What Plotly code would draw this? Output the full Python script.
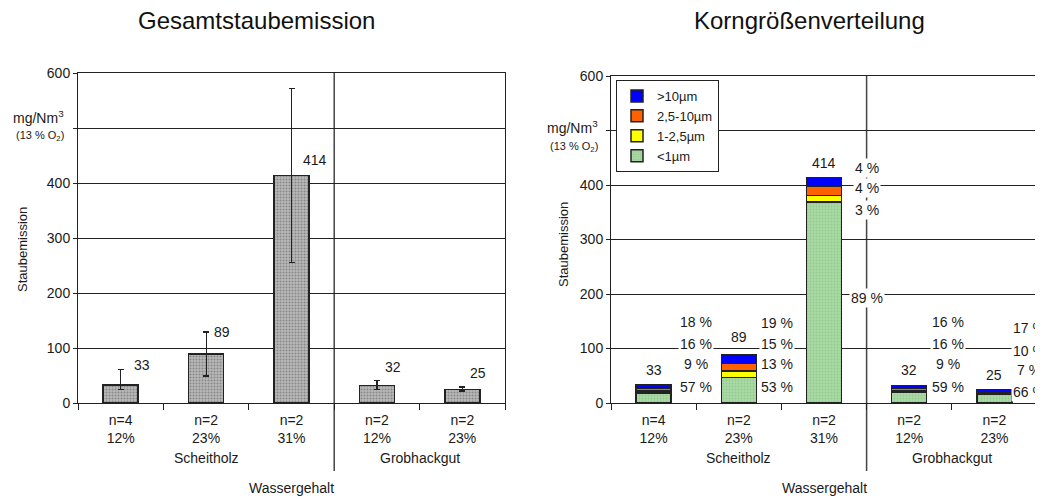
import plotly.graph_objects as go

# ---------------- data ----------------
tick_labels = ["n=4<br>12%", "n=2<br>23%", "n=2<br>31%", "n=2<br>12%", "n=2<br>23%"]
groups = ["Scheitholz", "Grobhackgut"]
totals = [33, 89, 414, 32, 25]
err_plus = [28, 40, 158, 9, 4]
err_minus = [9, 40, 158, 8, 3]
size_classes = ["<1µm", "1-2,5µm", "2,5-10µm", ">10µm"]
pct_lt1 = [57, 53, 89, 59, 66]
pct_1_25 = [9, 13, 3, 9, 7]
pct_25_10 = [16, 15, 4, 16, 10]
pct_gt10 = [18, 19, 4, 16, 17]
y_major = [0, 100, 200, 300, 400, 600]
y_minor = [500]

# ---------------- layout constants ----------------
W, H = 1043, 499
OFF = 8  # page body margin


def px(x):
    return (x - OFF) / W


def py(y):
    return (H - (y - OFF)) / H


FONT = "Liberation Sans, Arial, sans-serif"
TXT = "#1a1a1a"
xs = list(range(len(totals)))
L_DOM = [px(78), px(505)]
R_DOM = [px(611), px(1037)]
Y_DOM_L = [py(403), py(73)]
Y_DOM_R = [py(403), py(76)]

# label placement (layout only)
left_lab_dx = [0.25, 0.19, 0.28, 0.19, 0.18]
left_lab_y = [69, 129, 442, 65, 55]
right_lab_y = [60, 121, 440, 60, 51]
pct_dx = [0.5, 0.45, 0.5, 0.45, 0.41]
pct_y = [
    [30, 72, 108, 149],
    [30, 72, 108, 147],
    [193, 354, 395, 431],
    [30, 72, 108, 149],
    [20, 60, 96, 137],
]

fig = go.Figure()

# ---------- left chart ----------
fig.add_trace(go.Bar(
    x=xs, y=totals, width=0.41, xaxis="x", yaxis="y", showlegend=False,
    marker=dict(color="#a6a6a6", line=dict(color="#222", width=1.5),
                pattern=dict(shape=".", fgcolor="#555", bgcolor="#b8b8b8", size=3, solidity=0.35)),
    error_y=dict(type="data", symmetric=False, array=err_plus, arrayminus=err_minus,
                 color="#222", thickness=1.2, width=3),
))

# ---------- right chart (stacked) ----------
pct_lists = [pct_lt1, pct_1_25, pct_25_10, pct_gt10]
colors = ["#a9d9a4", "#ffff00", "#ff6000", "#0000ff"]
for name, pcts, col in zip(size_classes, pct_lists, colors):
    vals = [t * p / 100 for t, p in zip(totals, pcts)]
    mk = dict(color=col, line=dict(color="#222", width=1.5))
    if name == "<1µm":
        mk["pattern"] = dict(shape=".", fgcolor="#7fb87a", bgcolor=col, size=3, solidity=0.3)
    fig.add_trace(go.Bar(x=xs, y=vals, width=0.41, name=name, xaxis="x2", yaxis="y2", marker=mk))

ax_common = dict(
    range=[-0.5, 4.5], tickvals=xs, ticktext=tick_labels, ticks="", showgrid=False,
    showline=True, linecolor="#222", linewidth=1, mirror=True, zeroline=False, automargin=False,
    tickfont=dict(size=14, color=TXT, family=FONT), ticklabelstandoff=4,
    minor=dict(tickvals=[i - 0.5 for i in range(len(xs) + 1)], ticks="outside", ticklen=6,
               tickcolor="#222", showgrid=False),
)
ay_common = dict(
    range=[0, 600], tickvals=y_major, ticks="outside", ticklen=4,
    tickcolor="#222", showgrid=True, gridcolor="#222", gridwidth=1, automargin=False,
    showline=True, linecolor="#222", linewidth=1, mirror=True, zeroline=False,
    tickfont=dict(size=14, color=TXT, family=FONT),
    minor=dict(tickvals=y_minor, ticks="outside", ticklen=4, tickcolor="#222",
               showgrid=True, gridcolor="#222", gridwidth=1),
)

fig.update_layout(
    width=W, height=H, margin=dict(l=0, r=0, t=0, b=0, pad=0, autoexpand=False),
    paper_bgcolor="white", plot_bgcolor="white", barmode="stack",
    font=dict(family=FONT, color=TXT),
    xaxis=dict(domain=L_DOM, anchor="y", **ax_common),
    yaxis=dict(domain=Y_DOM_L, anchor="x", **ay_common),
    xaxis2=dict(domain=R_DOM, anchor="y2", **ax_common),
    yaxis2=dict(domain=Y_DOM_R, anchor="x2", **ay_common),
    legend=dict(x=px(616), y=py(80), xanchor="left", yanchor="top",
                traceorder="reversed", bgcolor="white", bordercolor="#222", borderwidth=1,
                font=dict(size=13, color=TXT, family=FONT), itemwidth=30, tracegroupgap=0),
)


def note(text, x, y, size=14, xref="paper", yref="paper", **kw):
    d = dict(text=text, x=x, y=y, xref=xref, yref=yref, showarrow=False,
             xanchor="center", yanchor="middle", font=dict(size=size))
    d.update(kw)
    return d


ann = []
shapes = []
for xr, ydom, ttl, tx in [("x", Y_DOM_L, "Gesamtstaubemission", 256),
                          ("x2", Y_DOM_R, "Korngrößenverteilung", 809)]:
    ann.append(note(ttl, px(tx), py(20), size=24, font=dict(size=24, color="#111")))
    ann.append(note(groups[0], 1, py(458), xref=xr))
    ann.append(note(groups[1], 3.5, py(458), xref=xr))
    ann.append(note("Wassergehalt", 2, py(488), xref=xr))
    shapes.append(dict(type="line", xref=xr, yref="paper", x0=2.5, x1=2.5,
                       y0=py(471), y1=ydom[1], line=dict(color="#444", width=1.5), layer="below"))

# y-axis titles and units
ann += [
    note("Staubemission", px(22), py(250), size=13, textangle=-90),
    note("mg/Nm<sup>3</sup>", px(38), py(117), size=14),
    note("(13 % O<sub>2</sub>)", px(40), py(136), size=11),
    note("Staubemission", px(563), py(245), size=13, textangle=-90),
    note("mg/Nm<sup>3</sup>", px(572), py(127), size=14),
    note("(13 % O<sub>2</sub>)", px(574), py(147), size=11),
]

# value labels
for i, t in enumerate(totals):
    ann.append(note(str(t), i + left_lab_dx[i], left_lab_y[i], xref="x", yref="y"))
    ann.append(note(str(t), i, right_lab_y[i], xref="x2", yref="y2"))
    for k, pcts in enumerate(pct_lists):
        ann.append(note(f"{pcts[i]} %", i + pct_dx[i], pct_y[i][k], xref="x2", yref="y2",
                        bgcolor="white"))

fig.update_layout(annotations=ann, shapes=shapes)
fig.write_html("out.html")
